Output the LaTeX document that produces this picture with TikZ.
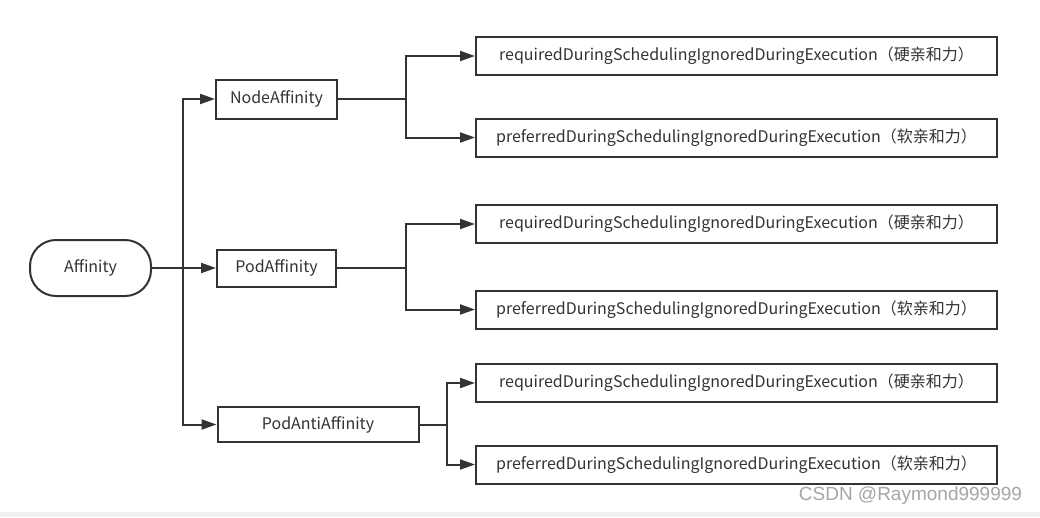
\documentclass[tikz,border=0pt]{standalone}
\usepackage{fontspec}
\setmainfont{Noto Sans CJK SC}
\newfontfamily\wmfont{Liberation Sans}
\usetikzlibrary{arrows.meta}
\definecolor{ink}{HTML}{333333}
\definecolor{wm}{HTML}{A6A6A6}
\definecolor{strip}{HTML}{F0F0F0}

\begin{document}
\begin{tikzpicture}
[x=1pt, y=-1pt, font=\fontsize{16}{18}\selectfont, text=ink, draw=ink, line width=2pt,
root/.style={rectangle, draw, rounded corners=26pt, inner sep=0pt, minimum width=121pt, minimum height=56pt},
kind/.style={rectangle, draw, inner sep=0pt, minimum height=37pt},
rule/.style={rectangle, draw, inner sep=0pt, minimum width=521pt, minimum height=38pt},
link/.style={-{Triangle[length=15pt, width=10pt]}}]

\useasboundingbox (0,0) rectangle (1040,517);
\fill[white] (0,0) rectangle (1040,517);
\fill[strip] (0,512) rectangle (1040,517);

\node[root] (aff) at (90.5,268) {Affinity};

\node[kind, minimum width=121pt, minimum height=39pt] (na) at (276.5,99) {NodeAffinity};
\node[kind, minimum width=119pt] (pa) at (276.5,268) {PodAffinity};
\node[kind, minimum width=201pt, minimum height=35pt] (paa) at (318,424.5) {PodAntiAffinity};

\node[rule] (na1) at (736.5,56) {requiredDuringSchedulingIgnoredDuringExecution（硬亲和力）};
\node[rule] (na2) at (736.5,137.5) {preferredDuringSchedulingIgnoredDuringExecution（软亲和力）};
\node[rule] (pa1) at (736.5,224) {requiredDuringSchedulingIgnoredDuringExecution（硬亲和力）};
\node[rule] (pa2) at (736.5,309.5) {preferredDuringSchedulingIgnoredDuringExecution（软亲和力）};
\node[rule] (paa1) at (736.5,383) {requiredDuringSchedulingIgnoredDuringExecution（硬亲和力）};
\node[rule] (paa2) at (736.5,464.5) {preferredDuringSchedulingIgnoredDuringExecution（软亲和力）};

% trunk and branch points
\coordinate (jaff) at (183,268);
\coordinate (jna) at (406,99);
\coordinate (jpa) at (406,268);
\coordinate (jpaa) at (446.5,424.5);

\draw (aff.east) -- (jaff);
\draw[link] (jaff) |- (na.west);
\draw[link] (jaff) -- (pa.west);
\draw[link] (jaff) |- (paa.west);

\foreach \k in {na,pa,paa} {
  \draw (\k.east) -- (j\k);
  \draw[link] (j\k) |- (\k1.west);
  \draw[link] (j\k) |- (\k2.west);
}

\node[anchor=east, inner sep=0pt, font=\wmfont\fontsize{19}{20}\selectfont, text=wm] (mark) at (1023,496) {CSDN @Raymond999999};
\end{tikzpicture}
\end{document}
